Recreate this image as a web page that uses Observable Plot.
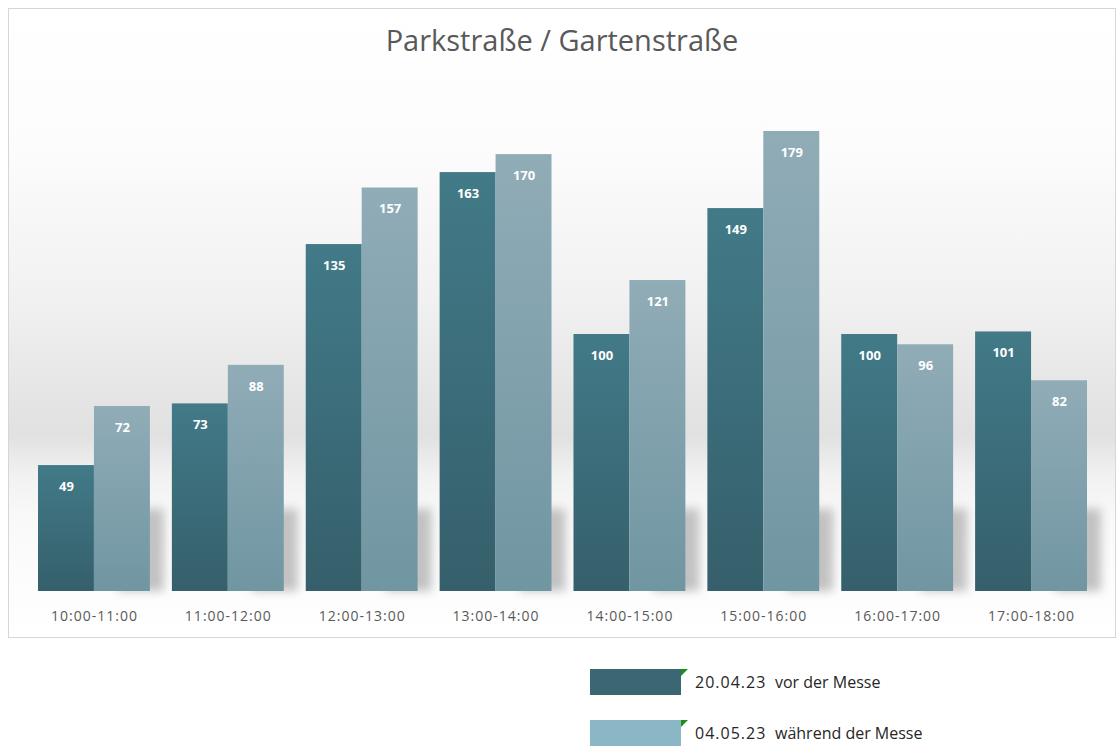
<!DOCTYPE html>
<html>
<head>
<meta charset="utf-8">
<script src="https://cdn.jsdelivr.net/npm/d3@7"></script>
<script src="https://cdn.jsdelivr.net/npm/@observablehq/plot@0.6"></script>
<style>
  body { margin: 0; background: #ffffff; font-family: "Open Sans", sans-serif; }
  #wrap { position: relative; width: 1117px; height: 746px; overflow: hidden; }
  #frame {
    position: absolute; left: 8px; top: 8px; width: 1108px; height: 630px;
    box-sizing: border-box; border: 1px solid #d6d6d6;
    background: linear-gradient(to bottom, #ffffff 0%, #fcfcfc 22%, #f1f1f1 46%, #e4e4e4 63%, #e1e1e1 68%, #f1f1f1 74%, #f9f9f9 81%, #ffffff 100%);
  }
  #title {
    position: absolute; left: 0; right: 0; top: 11px; text-align: center;
    font-family: "Open Sans", sans-serif; font-size: 29px; color: #595959; line-height: 40px;
  }
  #chart { position: absolute; left: 0px; top: 61px; }
  .sw { position: absolute; left: 590px; width: 91px; height: 26px; }
  .flag { position: absolute; left: 681px; width: 7px; height: 7px; background: #1b8f1b; clip-path: polygon(0 0, 100% 0, 0 100%); }
  .lt { position: absolute; font-family: "Open Sans", sans-serif; font-size: 16px; color: #262626; line-height: 20px; }
  .lt.date { letter-spacing: 1px; }
</style>
</head>
<body>
<div id="wrap">
  <div id="frame">
    <div id="title"></div>
    <div id="chart"></div>
  </div>
  <div id="legend"></div>
</div>
<script>
const titleText = "Parkstraße / Gartenstraße";
const hours = ["10:00-11:00", "11:00-12:00", "12:00-13:00", "13:00-14:00", "14:00-15:00", "15:00-16:00", "16:00-17:00", "17:00-18:00"];
const seriesKeys = ["vor", "waehrend"];
const seriesDates = ["20.04.23", "04.05.23"];
const seriesNames = ["vor der Messe", "während der Messe"];
const vorMesse = [49, 73, 135, 163, 100, 149, 100, 101];
const waehrendMesse = [72, 88, 157, 170, 121, 179, 96, 82];
const shadowDepth = 32;

const data = [];
hours.forEach((h, i) => {
  data.push({hour: h, series: seriesKeys[0], value: vorMesse[i]});
  data.push({hour: h, series: seriesKeys[1], value: waehrendMesse[i]});
});
const shadowData = hours.map((h, i) => ({hour: h, series: seriesKeys[1], value: Math.min(shadowDepth, waehrendMesse[i])}));

document.getElementById("title").textContent = titleText;

const defs = () => {
  const d = d3.create("svg:defs");
  const g1 = d.append("linearGradient").attr("id", "gDark").attr("x1", 0).attr("y1", 0).attr("x2", 0).attr("y2", 1);
  g1.append("stop").attr("offset", "0%").attr("stop-color", "#427a88");
  g1.append("stop").attr("offset", "100%").attr("stop-color", "#355f6b");
  const g2 = d.append("linearGradient").attr("id", "gLight").attr("x1", 0).attr("y1", 0).attr("x2", 0).attr("y2", 1);
  g2.append("stop").attr("offset", "0%").attr("stop-color", "#90acb7");
  g2.append("stop").attr("offset", "100%").attr("stop-color", "#7096a2");
  return d.node();
};

const plot = Plot.plot({
  width: 1106,
  height: 566,
  marginLeft: 29,
  marginRight: 28,
  marginTop: 7,
  marginBottom: 45,
  style: {background: "transparent", fontFamily: "Open Sans, sans-serif"},
  fx: {domain: hours, paddingInner: 22 / 134, paddingOuter: 0, round: false, axis: "bottom", label: null, tickSize: 0, tickPadding: 20},
  x: {domain: seriesKeys, padding: 0, round: false, axis: null},
  y: {domain: [0, 200], axis: null},
  color: {domain: seriesKeys, range: ["url(#gDark)", "url(#gLight)"]},
  marks: [
    defs,
    Plot.barY(shadowData, {fx: "hour", x: "series", y: "value", dx: 14, fill: "#c2c2c2", insetLeft: 10}),
    Plot.barY(data, {fx: "hour", x: "series", y: "value", fill: "series"}),
    Plot.text(data, {fx: "hour", x: "series", y: "value", text: d => String(d.value), dy: 21, fill: "white", fontWeight: "bold", fontSize: 13})
  ]
});

// blur the decorative floor shadows
const barGroups = plot.querySelectorAll('g[aria-label="bar"]');
if (barGroups.length) barGroups[0].style.filter = "blur(5px)";
// tick label styling
plot.querySelectorAll('g[aria-label="fx-axis tick label"]').forEach(g => {
  g.setAttribute("font-size", "14");
  g.style.fontSize = "14px";
});
plot.querySelectorAll('g[aria-label="fx-axis tick label"] text').forEach(t => {
  t.setAttribute("fill", "#595959");
  t.style.letterSpacing = "1px";
});
document.getElementById("chart").appendChild(plot);

// legend
const legend = document.getElementById("legend");
const swColors = ["#3b6674", "#8bb6c6"];
const rowTops = [669, 720];
seriesKeys.forEach((k, i) => {
  const sw = document.createElement("div");
  sw.className = "sw"; sw.style.top = rowTops[i] + "px"; sw.style.background = swColors[i];
  legend.appendChild(sw);
  const fl = document.createElement("div");
  fl.className = "flag"; fl.style.top = rowTops[i] + "px";
  legend.appendChild(fl);
  const t1 = document.createElement("div");
  t1.className = "lt date"; t1.style.left = "695px"; t1.style.top = (rowTops[i] + 3) + "px"; t1.textContent = seriesDates[i];
  legend.appendChild(t1);
  const t2 = document.createElement("div");
  t2.className = "lt"; t2.style.left = "775px"; t2.style.top = (rowTops[i] + 3) + "px"; t2.textContent = seriesNames[i];
  legend.appendChild(t2);
});
</script>
</body>
</html>
